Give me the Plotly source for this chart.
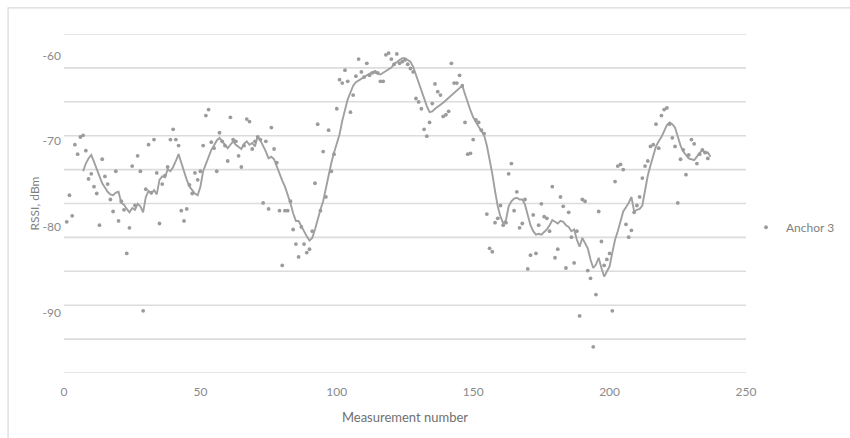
import numpy as np
import plotly.graph_objects as go

# RSSI readings for Anchor 3, one per measurement
meas_no = list(range(1, 237))
rssi = [
    -79.4, -76.3, -78.7, -70.4, -71.5, -69.5, -69.3, -71.1, -74.4, -73.8,
    -75.3, -76.1, -79.8, -72.1, -74.1, -75.0, -76.8, -78.2, -73.5, -79.3,
    -77.0, -78.0, -83.1, -80.1, -72.9, -77.5, -71.7, -73.5, -89.8, -75.6,
    -70.4, -76.0, -69.8, -73.7, -79.6, -75.0, -74.0, -73.0, -69.8, -68.6,
    -69.8, -70.5, -78.1, -79.3, -77.9, -75.1, -76.1, -73.7, -74.5, -73.5,
    -70.5, -67.0, -66.3, -70.1, -70.8, -73.5, -69.0, -70.0, -70.5, -72.3,
    -67.2, -69.8, -70.0, -71.7, -73.0, -70.5, -67.4, -67.7, -70.9, -70.0,
    -69.5, -69.8, -77.2, -70.0, -77.9, -68.4, -70.9, -72.5, -78.1, -84.5,
    -78.1, -78.1, -77.0, -80.3, -82.0, -83.5, -80.0, -82.0, -83.0, -82.6,
    -80.5, -74.9, -68.0, -78.1, -71.2, -76.5, -68.7, -73.5, -71.5, -66.2,
    -62.8, -63.2, -61.7, -63.0, -66.6, -64.6, -62.4, -60.4, -61.9, -62.5,
    -60.9, -62.3, -62.0, -61.9, -62.0, -63.0, -63.0, -59.9, -59.7, -60.4,
    -61.0, -59.8, -60.9, -60.7, -60.5, -61.0, -61.5, -61.9, -65.0, -65.4,
    -66.2, -68.6, -69.4, -67.8, -65.6, -63.3, -64.2, -64.6, -67.1, -66.9,
    -66.5, -60.9, -63.2, -63.2, -62.3, -63.5, -67.8, -71.5, -71.4, -69.8,
    -67.5, -67.8, -68.7, -69.1, -78.5, -82.5, -82.9, -79.5, -79.0, -77.5,
    -79.8, -79.5, -73.8, -72.6, -78.1, -75.9, -80.1, -79.6, -76.8, -84.9,
    -83.3, -78.6, -83.1, -79.8, -77.3, -78.8, -79.0, -80.5, -75.3, -83.6,
    -82.6, -76.5, -77.6, -84.8, -78.3, -81.2, -84.2, -80.5, -90.4, -76.8,
    -77.0, -85.1, -86.0, -94.0, -87.9, -78.2, -81.7, -84.5, -83.8, -83.1,
    -89.8, -74.7, -72.9, -72.7, -73.3, -79.7, -81.2, -80.4, -78.3, -77.5,
    -76.5, -74.3, -72.9, -72.3, -70.6, -70.4, -68.0, -70.8, -67.0, -66.3,
    -66.1, -68.0, -69.6, -70.6, -77.2, -72.1, -71.0, -73.9, -71.6, -69.8,
    -70.3, -72.6, -71.5, -71.0, -71.3, -72.0,
]

# Moving-average trend of the readings
trend_no = list(range(7, 238))
trend = [
    -73.5, -72.6, -72.0, -71.6, -72.4, -73.3, -74.0, -74.9, -75.4, -75.9,
    -76.2, -76.3, -76.0, -75.9, -77.2, -77.4, -77.9, -78.3, -77.8, -78.0,
    -77.3, -77.6, -78.3, -76.5, -75.8, -76.1, -75.7, -76.2, -74.5, -74.1,
    -74.2, -73.3, -73.5, -73.0, -72.3, -71.5, -72.5, -73.6, -74.5, -75.3,
    -75.7, -76.1, -76.3, -75.3, -73.5, -72.6, -71.8, -71.0, -70.5, -69.9,
    -69.6, -70.0, -70.3, -70.8, -70.4, -70.0, -70.4, -70.7, -70.9, -70.3,
    -70.0, -70.4, -70.2, -70.6, -69.4, -69.9, -70.5, -71.2, -72.0, -71.8,
    -72.1, -73.0, -73.8, -74.6, -75.3, -76.2, -77.2, -78.4, -79.3, -79.3,
    -79.9, -80.6, -81.1, -81.6, -81.3, -80.3, -79.0, -78.0, -77.0, -75.4,
    -73.7, -72.5, -71.3, -70.3, -69.2, -67.6, -66.2, -65.1, -64.3, -63.5,
    -63.1, -62.9, -62.7, -62.4, -62.3, -62.1, -62.0, -61.9, -62.1, -62.2,
    -62.0, -61.8, -61.7, -61.4, -61.0, -60.7, -60.5, -60.3, -60.3, -60.5,
    -60.7, -61.3, -62.2, -63.2, -64.2, -65.1, -65.9, -66.6, -66.5, -66.2,
    -66.0, -65.7, -65.5, -65.2, -64.9, -64.6, -64.4, -64.1, -63.7, -63.5,
    -64.5, -65.6, -66.4, -67.2, -67.8, -68.3, -68.8, -69.3, -70.5, -72.1,
    -73.8, -75.8, -77.6, -78.8, -79.6, -79.2, -77.6, -77.0, -76.7, -76.6,
    -76.8, -76.8, -77.4, -78.6, -79.8, -80.5, -80.9, -80.8, -80.9, -80.6,
    -80.3, -79.8, -79.2, -79.4, -79.6, -79.3, -79.4, -79.8, -80.0, -80.5,
    -80.3, -81.5, -82.3, -81.3, -82.0, -82.5, -83.8, -84.8, -84.4, -83.6,
    -84.8, -85.8, -85.2, -84.6, -83.0, -81.5, -80.5, -79.3, -78.2, -77.7,
    -77.2, -76.5, -78.2, -78.0, -77.9, -77.5, -75.8, -74.0, -72.8, -71.6,
    -70.6, -70.0, -69.5, -68.8, -68.1, -67.8, -68.0, -68.4, -69.6, -70.5,
    -71.2, -71.6, -72.0, -72.1, -72.2, -71.8, -71.4, -71.0, -71.4, -71.3,
    -71.8,
]

y_ticks = [-60, -70, -80, -90]
y_tick_text = ["-60", "-70", "-80", "-90"]
x_ticks = [0, 50, 100, 150, 200, 250]

y_lo, y_hi = -97.06, -57.47
grid_levels = np.linspace(y_lo, y_hi, 11)

FONT = "Lato"
fig = go.Figure()

fig.add_trace(go.Scatter(
    x=trend_no, y=trend, mode="lines",
    line=dict(color="#a0a0a0", width=1.9),
    showlegend=False, hoverinfo="skip",
))
fig.add_trace(go.Scatter(
    x=meas_no, y=rssi, mode="markers", name="Anchor 3",
    marker=dict(color="#9b9b9b", size=3.8),
))

shapes = [
    dict(type="line", xref="x", yref="y", x0=0, x1=250, y0=g, y1=g,
         line=dict(color="#dcdcdc", width=1.6), layer="below")
    for g in grid_levels
]
# outer chart frame
shapes.append(dict(type="rect", xref="paper", yref="paper",
                   x0=-0.082, x1=1.2, y0=-0.25, y1=1.077,
                   line=dict(color="#d9d9d9", width=1.2)))

fig.update_layout(
    width=850, height=438,
    margin=dict(l=64, r=104, t=34, b=65, autoexpand=False),
    paper_bgcolor="white", plot_bgcolor="white",
    font=dict(family=FONT, size=12, color="#7f7f7f"),
    shapes=shapes,
    showlegend=True,
    legend=dict(x=1.0, y=0.43, xanchor="left", yanchor="middle",
                font=dict(family=FONT, size=12, color="#7f7f7f"),
                itemwidth=30, bgcolor="rgba(0,0,0,0)"),
    xaxis=dict(
        range=[0, 250], tickvals=x_ticks, showgrid=False, zeroline=False,
        showline=False, ticks="", ticklabelstandoff=10, automargin=False,
        tickfont=dict(size=12, color="#8a8a8a"),
        title=dict(text="Measurement number", standoff=14,
                   font=dict(size=13, color="#707070")),
    ),
    yaxis=dict(
        range=[y_lo, y_hi], tickvals=y_ticks, ticktext=y_tick_text,
        showgrid=False, zeroline=False, automargin=False,
        showline=False, ticks="", ticklabelstandoff=2,
        tickfont=dict(size=12, color="#8a8a8a"),
        title=dict(text="RSSI, dBm", standoff=0,
                   font=dict(size=12, color="#7f7f7f")),
    ),
)

fig.write_html("out.html")
